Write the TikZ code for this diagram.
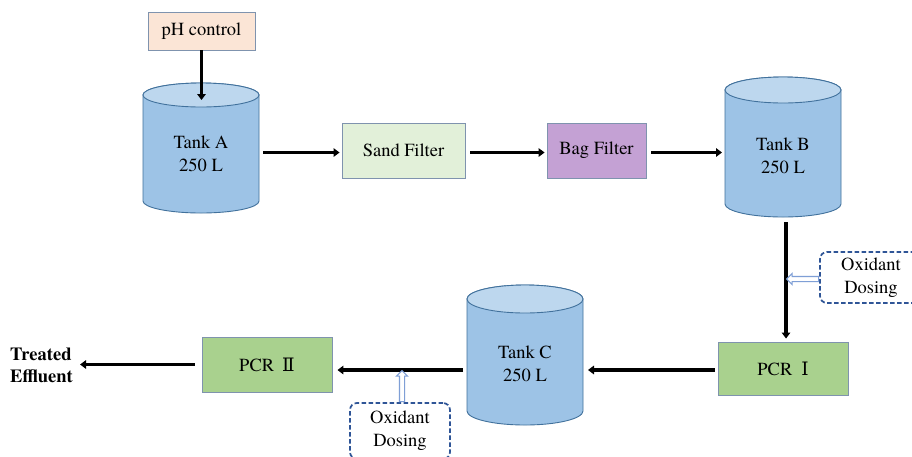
\documentclass[tikz,border=0pt]{standalone}
\usepackage{fontspec}
\setmainfont{texgyretermes}[Extension=.otf,UprightFont=*-regular,BoldFont=*-bold,ItalicFont=*-italic,BoldItalicFont=*-bolditalic]
\newfontfamily\romnum{DejaVu Serif}
\usetikzlibrary{arrows.meta,shapes.arrows}
\definecolor{boxline}{HTML}{7F93AE}
\definecolor{phfill}{HTML}{FBE5D6}
\definecolor{sandfill}{HTML}{E2F0D9}
\definecolor{bagfill}{HTML}{C4A1D4}
\definecolor{pcrfill}{HTML}{A9D18E}
\definecolor{tankbody}{HTML}{9DC3E6}
\definecolor{tanktop}{HTML}{BDD7EE}
\definecolor{tankline}{HTML}{41719C}
\definecolor{dashline}{HTML}{2F5597}
\definecolor{hollow}{HTML}{7F9FD6}
\newcommand\tankshape[5]{%
  \filldraw[draw=tankline,fill=tankbody,line width=0.9pt]
    (#1-#4,#2) -- (#1-#4,#3) arc[start angle=180,end angle=0,x radius=#4,y radius=#5]
    -- (#1+#4,#2) arc[start angle=0,end angle=-180,x radius=#4,y radius=#5] -- cycle;
  \filldraw[draw=tankline,fill=tanktop,line width=0.9pt] (#1,#2) ellipse[x radius=#4,y radius=#5];
}
\begin{document}
\begin{tikzpicture}[x=1pt,y=-1pt,
  every node/.style={font=\fontsize{18.5}{23}\selectfont},
  procbox/.style={draw=boxline,line width=0.9pt,inner sep=0pt,align=center},
  tanktext/.style={inner sep=0pt,align=center,minimum width=124pt},
  dosebox/.style={draw=dashline,dash pattern=on 4.5pt off 2.5pt,line width=1.7pt,rounded corners=7pt,inner sep=0pt,align=center,fill=white},
  flow/.style={line width=3.2pt,-{Triangle[length=6pt,width=8.5pt]}},
  hollowarrow/.style={single arrow,draw=hollow,fill=white,line width=1.1pt,inner sep=2pt,single arrow head extend=3pt,minimum height=32pt}
]
\clip (0,0) rectangle (912,456);
\fill[white] (0,0) rectangle (912,456);

% tanks
\tankshape{201}{95}{201}{58}{12}
\tankshape{783}{90}{204}{58}{13}
\tankshape{525}{299}{411}{58}{14}
\node[tanktext] (tA) at (201,154) {Tank A\\250 L};
\node[tanktext] (tB) at (783,156) {Tank B\\250 L};
\node[tanktext] (tC) at (525,364) {Tank C\\250 L};

% ports
\coordinate (tAin) at (201.5,100);
\coordinate (tAout) at (263,152.5);
\coordinate (tBin) at (722,152.5);
\coordinate (tBout) at (786,222);
\coordinate (tCin) at (588,370);
\coordinate (tCout) at (463,370);

% boxes
\node[procbox,fill=phfill,minimum width=107pt,minimum height=38pt] (ph) at (201.5,31) {pH control};
\node[procbox,fill=sandfill,minimum width=123pt,minimum height=55pt] (sand) at (403.5,150.5) {Sand Filter};
\node[procbox,fill=bagfill,minimum width=99pt,minimum height=55pt] (bag) at (596.5,150.5) {Bag Filter};
\node[procbox,fill=pcrfill,minimum width=130pt,minimum height=53pt] (pcr1) at (783,368.5) {PCR\hspace{9pt}{\romnum Ⅰ}};
\node[procbox,fill=pcrfill,minimum width=130pt,minimum height=55pt] (pcr2) at (267,364.5) {PCR\hspace{8pt}{\romnum Ⅱ}};
\node[dosebox,minimum width=102pt,minimum height=51pt] (oxR) at (871,277.5) {Oxidant\\Dosing};
\node[dosebox,minimum width=100pt,minimum height=56pt] (oxB) at (400,431) {Oxidant\\Dosing};
\node[inner sep=0pt,align=left,anchor=west,font=\fontsize{18.5}{22}\selectfont\bfseries] (eff) at (10,365) {Treated\\Effluent};

% flows
\draw[flow] (ph.south) -- (tAin);
\draw[flow,shorten >=2pt] (tAout) -- (tAout -| sand.west);
\draw[flow,shorten <=5pt,shorten >=2pt] (sand.east |- tAout) -- (bag.west |- tAout);
\draw[flow,shorten <=5pt] (bag.east |- tBin) -- (tBin);
\draw[flow,shorten >=3pt] (tBout) -- (tBout |- pcr1.north);
\draw[flow,shorten <=3pt] (pcr1.west |- tCin) -- (tCin);
\draw[flow,shorten >=5pt] (tCout) -- (tCout -| pcr2.east);
\draw[flow,shorten <=7pt,shorten >=7pt] (pcr2.west) -- (pcr2.west -| eff.east);

% dosing arrows
\node[hollowarrow,shape border rotate=180,anchor=tail] (dR) at (oxR.west |- 0,279) {};
\node[hollowarrow,shape border rotate=90,minimum height=31pt,anchor=tail] (dB) at ([xshift=2pt]oxB.north) {};
\end{tikzpicture}
\end{document}
